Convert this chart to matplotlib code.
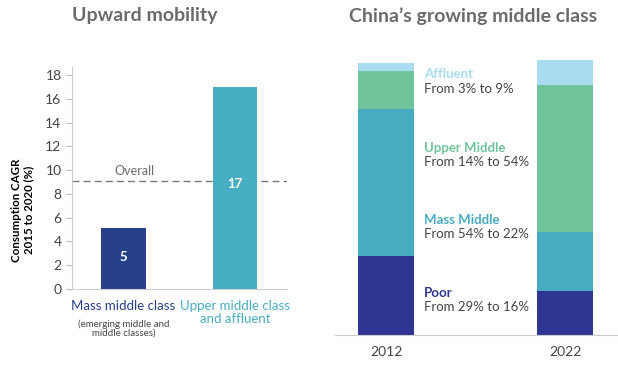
import matplotlib
matplotlib.use("Agg")
import matplotlib.pyplot as plt

plt.rcParams['font.family'] = ['Lato', 'DejaVu Sans']

# Left panel data
clases = ['Mass middle class', 'Upper middle class\nand affluent']
cagr = [5.1, 17.0]
overall = 9.1
colores_izq = ['#26408a', '#48aec4']

# Right panel data
anios = ['2012', '2022']
poor = [29, 16]
mass_middle = [54, 22]
upper_middle = [14, 54]
affluent = [3, 9]
segmentos = ['Poor', 'Mass Middle', 'Upper Middle', 'Affluent']
textos = ['From 29% to 16%', 'From 54% to 22%', 'From 14% to 54%', 'From 3% to 9%']
colores_der = ['#2e3592', '#47abc2', '#70c49b', '#a9dcf0']

gris = '#6b6b6b'

fig = plt.figure(figsize=(6.18, 3.65), dpi=100)

# ---- Upward mobility ----
ax1 = fig.add_axes([72/618, 76/365, 215/618, 222/365])
x = range(len(clases))
bars = ax1.bar(x, cagr, width=0.40, color=colores_izq, zorder=2)
for bar, v in zip(bars, cagr):
    ax1.text(bar.get_x() + bar.get_width()/2, v*0.52, f'{v:.0f}', color='white',
             ha='center', va='center', fontsize=9.5, fontweight='bold', zorder=3)
ax1.axhline(overall, color='#777777', linestyle=(0, (5, 3)), linewidth=1, zorder=1)
ax1.text(0.1, overall + 0.35, 'Overall', color=gris, fontsize=9, ha='center', va='bottom')
ax1.set_xlim(-0.462, 1.466)
ax1.set_ylim(0, 18.67)
ax1.set_yticks(range(0, 19, 2))
ax1.tick_params(axis='y', colors='#bbbbbb', labelcolor='#444444', labelsize=10, length=4)
ax1.set_xticks([])
for s in ['top', 'right']:
    ax1.spines[s].set_visible(False)
for s in ['left', 'bottom']:
    ax1.spines[s].set_color('#cccccc')
ax1.set_ylabel('Consumption CAGR\n2015 to 2020 (%)', fontsize=8.3, fontweight='bold',
               color='black', linespacing=1.1)
ax1.yaxis.set_label_coords(-0.175, 0.356)
ax1.text(0, -0.05, clases[0], transform=ax1.get_xaxis_transform(), ha='center', va='top',
         color=colores_izq[0], fontsize=9.5)
ax1.text(0, -0.135, '(emerging middle and\nmiddle classes)', transform=ax1.get_xaxis_transform(),
         ha='center', va='top', color='#444444', fontsize=7, linespacing=1.0)
ax1.text(1, -0.05, clases[1], transform=ax1.get_xaxis_transform(), ha='center', va='top',
         color=colores_izq[1], fontsize=9.5, linespacing=1.05)
fig.text(145/618, 1 - 16/365, 'Upward mobility', ha='center', va='center',
         fontsize=14, fontweight='bold', color=gris)

# ---- China's growing middle class ----
ax2 = fig.add_axes([335/618, 30/365, 283/618, 280/365])
xs = range(len(anios))
bottom = [0, 0]
for vals, col in zip([poor, mass_middle, upper_middle, affluent], colores_der):
    ax2.bar(xs, vals, bottom=bottom, width=0.313, color=col)
    bottom = [b + v for b, v in zip(bottom, vals)]
ax2.set_xlim(-0.285, 1.296)
ax2.set_ylim(0, 102.9)
ax2.set_yticks([])
ax2.set_xticks(list(xs))
ax2.set_xticklabels(anios, fontsize=10, color='#444444')
ax2.tick_params(axis='x', length=0, pad=8)
for s in ['top', 'right', 'left']:
    ax2.spines[s].set_visible(False)
ax2.spines['bottom'].set_color('#cccccc')

text_y = [[15.4, 10.3], [42.3, 37.1], [68.8, 63.6], [96, 90.4]]
for nombre, texto, col, (y1, y2) in zip(segmentos, textos, colores_der, text_y):
    ax2.text(0.21, y1, nombre, color=col, fontsize=9.5, fontweight='bold', ha='left', va='center')
    ax2.text(0.21, y2, texto, color='#444444', fontsize=9.5, ha='left', va='center')

fig.text(473/618, 1 - 16/365, 'China\u2019s growing middle class', ha='center', va='center',
         fontsize=14, fontweight='bold', color=gris)

plt.savefig('out.png', dpi=100)
plt.close()
